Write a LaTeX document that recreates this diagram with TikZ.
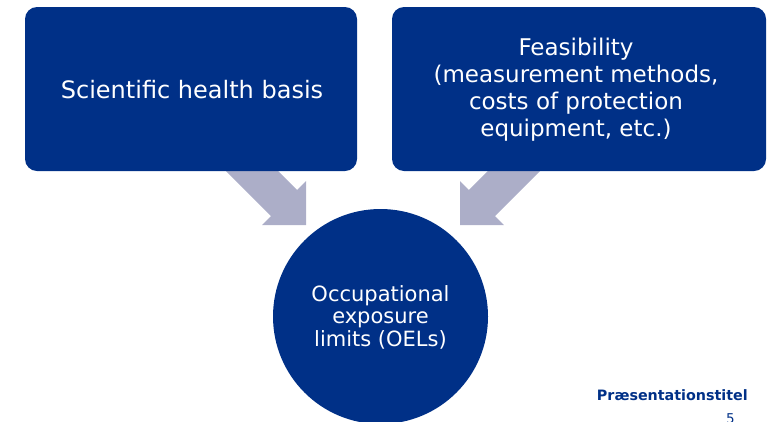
\documentclass[tikz,border=0pt]{standalone}
\usepackage{fontspec}
\setmainfont{DejaVu Sans}
\definecolor{oblue}{RGB}{0,48,135}
\definecolor{agrey}{RGB}{172,174,200}
\begin{document}
\begin{tikzpicture}[x=1pt,y=-1pt,
  box/.style={fill=oblue,draw=none,rounded corners=12pt},
  boxtext/.style={text=white,align=center,font=\fontsize{23}{27}\selectfont,inner sep=0pt},
  blockarrow/.style={fill=agrey,draw=none}]
\useasboundingbox (0,0) rectangle (768,421);
% block arrows (drawn first, tails hidden behind boxes)
\fill[blockarrow] (240.6,133.4) -- (297.2,190) -- (306,181.2) -- (306,225) -- (262.2,225) -- (271,216.2) -- (214.4,159.6) -- cycle;
\fill[blockarrow] (525.4,133.4) -- (468.8,190) -- (460,181.2) -- (460,225) -- (503.8,225) -- (495,216.2) -- (551.6,159.6) -- cycle;
% boxes
\fill[box] (25,7) rectangle (357,171);
\fill[box] (392,7) rectangle (766,171);
\node[boxtext,font=\fontsize{24}{27}\selectfont] (sci) at (192,90) {Scientific health basis};
\node[boxtext] (feas) at (576,90) {Feasibility\\(measurement methods,\\costs of protection\\equipment, etc.)};
% circle
\fill[oblue] (380.5,316.5) circle (107.5);
\node[text=white,align=center,font=\fontsize{21}{22.5}\selectfont,inner sep=0pt] (oel) at (380.5,317) {Occupational\\exposure\\limits (OELs)};
% footer
\node[anchor=base east,text=oblue,font=\fontsize{14.3}{16}\selectfont\bfseries,inner sep=0pt] (title) at (748,400) {Præsentationstitel};
\node[anchor=base east,text=oblue,font=\fontsize{13.5}{16}\selectfont,inner sep=0pt] (pg) at (735,423) {5};
\end{tikzpicture}
\end{document}
